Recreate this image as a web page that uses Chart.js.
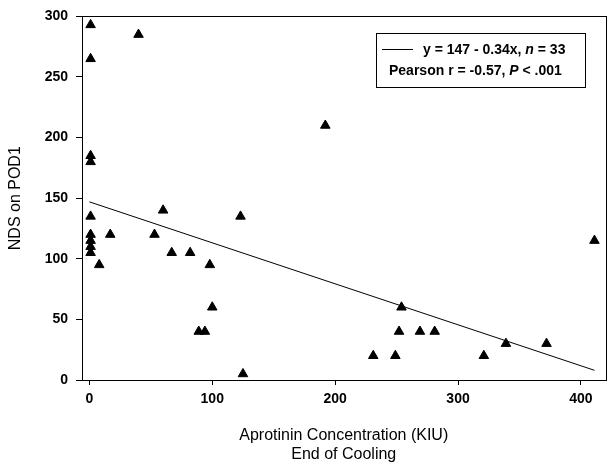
<!DOCTYPE html>
<html lang="en">
<head>
<meta charset="utf-8">
<title>NDS on POD1 vs Aprotinin</title>
<script src="https://cdn.jsdelivr.net/npm/chart.js@4.4.1/dist/chart.umd.min.js"></script>
<style>
  html, body { margin: 0; padding: 0; background: #fff; }
  #wrap { width: 614px; height: 468px; }
</style>
</head>
<body>
<div id="wrap"><canvas id="myChart" width="614" height="468"></canvas></div>

<script>
// data
var concX = [1, 1, 1, 1, 1, 1, 1, 1, 1,
             40, 8, 17, 53, 60, 67, 82, 98, 100, 89, 94,
             123, 125, 192, 231, 249, 252, 254, 269, 281,
             321, 339, 372, 411];
var ndsY  = [293, 265, 185, 180, 135, 120, 115, 110, 105,
             285, 95, 120, 120, 140, 105, 105, 95, 60, 40, 40,
             135, 5, 210, 20, 20, 40, 60, 40, 40,
             20, 30, 30, 115];
// fitted line y = 147 - 0.34x, ends
var fitX = [0, 411];
var fitY = [147, 8];

var xTicks = [0, 100, 200, 300, 400];
var yTicks = [0, 50, 100, 150, 200, 250, 300];

var legendLines = [
    [['y = 147 - 0.34x, ', false], ['n', true], [' = 33', false]],
    [['Pearson r = -0.57, ', false], ['P', true], [' < .001', false]]
];

var FONT = "'Liberation Sans', Arial, sans-serif";

var points = [], fit = [];
for (var i = 0; i < concX.length; i++) points.push({x: concX[i], y: ndsY[i]});
for (var j = 0; j < fitX.length; j++) fit.push({x: fitX[j], y: fitY[j]});

// frame round the plot + the little legend box
var framePlugin = {
    id: 'frame',
    afterDraw: function (chart) {
        var ctx = chart.ctx, a = chart.chartArea;
        ctx.save();
        ctx.strokeStyle = '#000';
        ctx.lineWidth = 1;
        ctx.strokeRect(Math.round(a.left) + 0.5, Math.round(a.top) + 0.5,
            Math.round(a.right - a.left), Math.round(a.bottom - a.top));

        // legend box
        var bx = 376.5, by = 33.5, bw = 209, bh = 54;
        ctx.strokeRect(bx, by, bw, bh);
        ctx.beginPath();
        ctx.moveTo(382, 49.5);
        ctx.lineTo(413, 49.5);
        ctx.stroke();

        ctx.fillStyle = '#000';
        ctx.textBaseline = 'middle';
        var starts = [[423, 50], [389, 71.5]];
        legendLines.forEach(function (line, k) {
            var x = starts[k][0];
            line.forEach(function (seg) {
                ctx.font = (seg[1] ? 'italic ' : '') + 'bold 14px ' + FONT;
                ctx.fillText(seg[0], x, starts[k][1]);
                x += ctx.measureText(seg[0]).width;
            });
        });
        ctx.restore();
    }
};

var ctx = document.getElementById('myChart');
var myChart = new Chart(ctx, {
    type: 'scatter',
    data: {
        datasets: [{
            type: 'scatter',
            data: points,
            pointStyle: 'triangle',
            pointRadius: 5.5,
            pointHoverRadius: 5.5,
            backgroundColor: '#000',
            borderColor: '#000',
            borderWidth: 1
        }, {
            type: 'line',
            data: fit,
            borderColor: '#000',
            borderWidth: 1,
            pointRadius: 0,
            fill: false
        }]
    },
    options: {
        responsive: false,
        animation: false,
        devicePixelRatio: 1,
        layout: { padding: { top: 13, right: 8.5, left: 0, bottom: 0 } },
        plugins: { legend: { display: false }, tooltip: { enabled: false } },
        scales: {
            x: {
                type: 'linear',
                min: -6,
                max: 420,
                afterFit: function (s) { s.height = 88; },
                afterBuildTicks: function (s) {
                    s.ticks = xTicks.map(function (v) { return {value: v}; });
                },
                grid: { drawOnChartArea: false, drawTicks: true, tickLength: 5, color: '#000' },
                border: { display: true, color: '#000', width: 1 },
                ticks: { color: '#000', padding: 6, font: { family: FONT, size: 14, weight: 'bold' } },
                title: {
                    display: true,
                    text: ['Aprotinin Concentration (KIU)', 'End of Cooling'],
                    color: '#000',
                    padding: { top: 0, bottom: 4 },
                    font: { family: FONT, size: 16, weight: 'normal' }
                }
            },
            y: {
                type: 'linear',
                min: 0,
                max: 300,
                afterFit: function (s) { s.width = 82; },
                afterBuildTicks: function (s) {
                    s.ticks = yTicks.map(function (v) { return {value: v}; });
                },
                grid: { drawOnChartArea: false, drawTicks: true, tickLength: 6, color: '#000' },
                border: { display: true, color: '#000', width: 1 },
                ticks: { color: '#000', padding: 8, font: { family: FONT, size: 14, weight: 'bold' } },
                title: {
                    display: true,
                    text: 'NDS on POD1',
                    color: '#000',
                    padding: { top: 6, bottom: 0 },
                    font: { family: FONT, size: 16, weight: 'normal' }
                }
            }
        }
    },
    plugins: [framePlugin]
});
</script>
</body>
</html>
